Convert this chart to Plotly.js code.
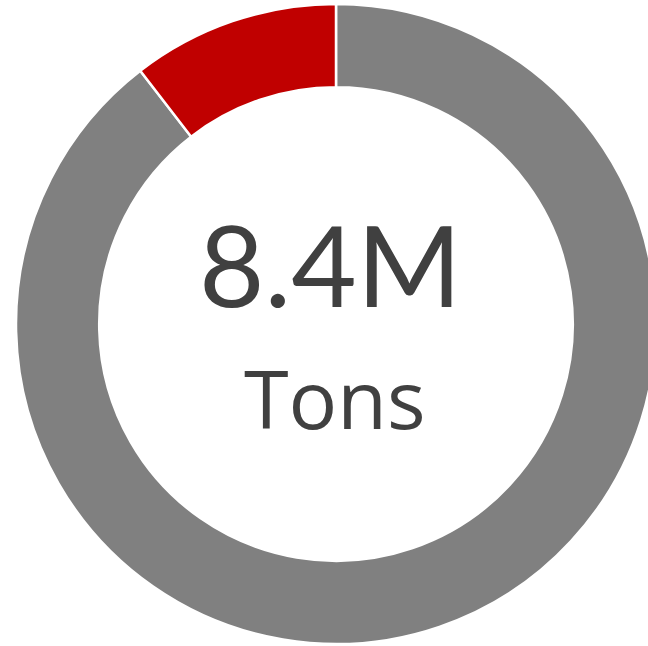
<!DOCTYPE html>
<html>
<head>
<meta charset="utf-8">
<script src="https://cdn.plot.ly/plotly-3.0.1.min.js"></script>
<style>
html, body { margin: 0; padding: 0; overflow: hidden; background: #fff; width: 648px; height: 646px; }
#chart { width: 672px; height: 646px; }
</style>
</head>
<body>
<div id="chart"></div>
<script>
const categories = ["Remaining", "Highlighted"];
const values = [7.52, 0.88];
const sliceColors = ["#808080", "#C00000"];
const centerValue = "8.4M";
const centerUnit = "Tons";

const trace = {
  type: "pie",
  labels: categories,
  values: values,
  hole: 0.74,
  sort: false,
  direction: "clockwise",
  rotation: 0,
  textinfo: "none",
  hoverinfo: "label+value",
  marker: { colors: sliceColors, line: { color: "#ffffff", width: 2.5 } },
  showlegend: false
};

const layout = {
  width: 672,
  height: 646,
  margin: { l: 16, r: 16, t: 4, b: 2, pad: 0 },
  paper_bgcolor: "#ffffff",
  plot_bgcolor: "#ffffff",
  showlegend: false,
  annotations: [
    { text: centerValue, x: 0.492, y: 0.595,
      xref: "paper", yref: "paper", xanchor: "center", yanchor: "middle", showarrow: false,
      font: { family: "Lato, 'Open Sans', sans-serif", size: 113, color: "#404040" } },
    { text: centerUnit, x: 0.498, y: 0.3845,
      xref: "paper", yref: "paper", xanchor: "center", yanchor: "middle", showarrow: false,
      font: { family: "'Open Sans', Lato, sans-serif", size: 81, color: "#404040" } }
  ]
};

Plotly.newPlot("chart", [trace], layout, { displayModeBar: false, staticPlot: true });
</script>
</body>
</html>
